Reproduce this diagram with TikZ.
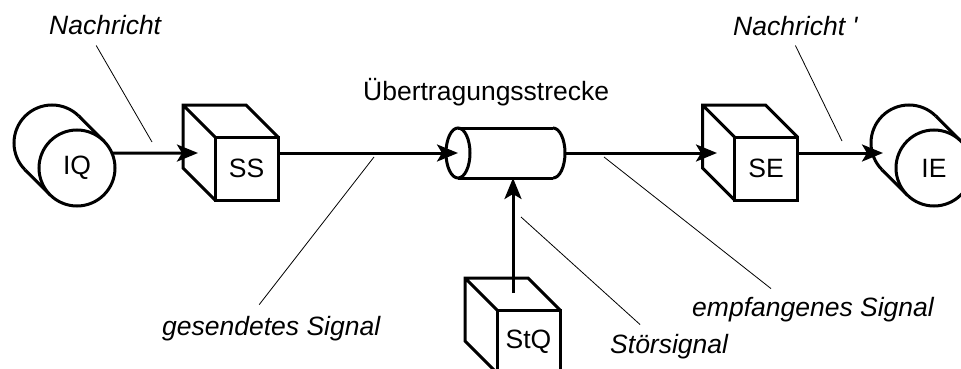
\documentclass[tikz,border=0pt]{standalone}
\usepackage{fontspec}
\setmainfont{Liberation Sans}
\usetikzlibrary{arrows.meta,shapes.geometric}

\tikzset{
  box/.style={line width=3pt},
  face/.style={box, draw, fill=white, minimum size=63pt, inner sep=0pt, outer sep=0pt},
  disc/.style={box, draw, fill=white, circle, minimum size=76pt, inner sep=0pt, outer sep=0pt},
  sig/.style={line width=3pt, -{Stealth[length=21pt,width=17pt,inset=5pt]}},
  lead/.style={line width=0.8pt},
  lab/.style={font=\fontsize{26.5}{30}\selectfont\itshape, anchor=base west, inner sep=0pt},
}

\begin{document}
\begin{tikzpicture}[x=1pt, y=-1pt, font=\fontsize{26.5}{30}\selectfont]
  \useasboundingbox (0,0) rectangle (961,369);
  \clip (0,0) rectangle (961,369);
  % Quelle und Empfaenger (Zylinder)
  \foreach \c/\t/\p in {iq/IQ/{77,168}, ie/IE/{934,168}} {
    \node[disc] (\c-back) at ([shift={(-25,-25)}]\p) {};
    \fill[white] (\c-back.45) -- ([shift={(25,25)}]\c-back.45)
      -- ([shift={(25,25)}]\c-back.225) -- (\c-back.225) -- cycle;
    \draw[box] (\c-back.45) -- ++(25,25) (\c-back.225) -- ++(25,25);
    \node[disc] (\c) at (\p) {\t};
  }
  % Sender, Empfaenger, Stoerquelle (Wuerfel)
  \foreach \c/\t/\p in {ss/SS/{246.5,168.5}, se/SE/{766,168.5}, stq/StQ/{528.5,341.5}} {
    \node[face] (\c) at (\p) {\t};
    \draw[box] (\c.south west) -- ++(-32,-32) -- ++(0,-63) -- ++(63,0) -- (\c.north east)
      (\c.north west) -- ++(-32,-32);
  }
  % Uebertragungsstrecke
  \node[box, draw, ellipse, minimum width=24pt, minimum height=50pt, inner sep=0pt, outer sep=0pt] (ch) at (458,153) {};
  \draw[box] (ch.north) -- (553,128) (ch.south) -- (553,178);
  \begin{scope}
    \clip (553,100) rectangle (590,200);
    \draw[box] (553,153) ellipse [x radius=12, y radius=25];
  \end{scope}
  \coordinate (ss-in) at (198,153);
  \coordinate (se-in) at (717,153);
  \coordinate (ie-in) at (883,153);
  \coordinate (ch-e) at (565,153);
  \coordinate (ch-s) at (513,178);
  \coordinate (stq-out) at (513,293);
  % Signale
  \draw[sig] (iq.23) -- (ss-in);
  \draw[sig] (ss.east |- ch.center) -- (ch.center);
  \draw[sig] (ch-e) -- (se-in);
  \draw[sig] (se.east |- ie-in) -- (ie-in);
  \draw[sig] (stq-out) -- (ch-s);
  % Beschriftung
  \node[lab] (nachr) at (49,35) {Nachricht};
  \node[lab] (nachr2) at (733,36) {Nachricht \textquotesingle};
  \node[anchor=base west, inner sep=0pt] (strecke) at (363,100) {Übertragungsstrecke};
  \node[lab] (gesendet) at (162,335) {gesendetes Signal};
  \node[lab] (stoer) at (610,353) {Störsignal};
  \node[lab] (empf) at (692,316) {empfangenes Signal};
  \coordinate (lead-iq) at (152,142);
  \coordinate (lead-ie) at (842,141);
  \coordinate (lead-ss) at (374,157);
  \coordinate (lead-stq) at (521,217);
  \coordinate (lead-se) at (604,157);
  \draw[lead] (nachr.south) ++(-9,10) -- (lead-iq);
  \draw[lead] (nachr2.south) ++(0,9) -- (lead-ie);
  \draw[lead] (gesendet.north) ++(-12,-11) -- (lead-ss);
  \draw[lead] (stoer.north) ++(-29,-9) -- (lead-stq);
  \draw[lead] (empf.north) ++(-42,-8) -- (lead-se);
\end{tikzpicture}
\end{document}
